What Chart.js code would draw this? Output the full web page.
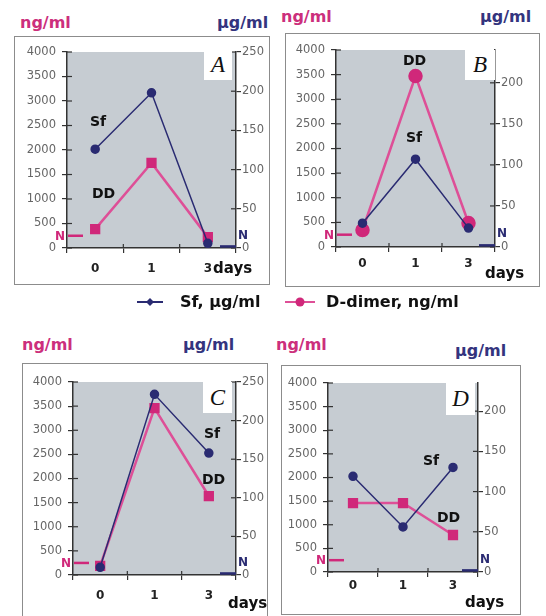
<!DOCTYPE html>
<html>
<head>
<meta charset="utf-8">
<script src="https://cdn.jsdelivr.net/npm/chart.js@4.4.0/dist/chart.umd.min.js"></script>
<style>
  body { margin: 0; background: #fff; width: 546px; height: 616px; position: relative; overflow: hidden;
         font-family: "DejaVu Sans", Verdana, sans-serif; }
  .frame { position: absolute; border: 1.5px solid #8c8c8c; box-sizing: border-box; }
  canvas { position: absolute; }
  .t { position: absolute; font-weight: bold; white-space: nowrap; line-height: 1; }
  .ng { color: #cc2f7c; font-size: 16px; }
  .ug { color: #34347e; font-size: 16px; }
  .lbl { color: #111; font-size: 14px; }
  .days { color: #111; font-size: 15px; }
  .letter { position: absolute; background: #fff; font-family: "Liberation Serif", serif; font-style: italic;
            font-size: 23px; text-align: center; line-height: 30px; color: #111; }
  .leg { color: #111; font-size: 16px; }
</style>
</head>
<body>
<script>
const days = ['0', '1', '3'];

// Sf, µg/ml (right axis)   D-dimer, ng/ml (left axis)
const sfA = [126, 198, 6];
const ddA = [384, 1737, 222];
const sfB = [29, 107, 23];
const ddB = [345, 3472, 487];
const sfC = [10, 234, 158];
const ddC = [190, 3460, 1637];
const sfD = [119, 56, 130];
const ddD = [1460, 1460, 783];

const ngMax = 4000;
const ngStep = 500;
const ugStep = 50;
const ugMaxA = 250, ugMaxB = 240, ugMaxC = 250, ugMaxD = 235;

// normal levels ("N" marks)
const normDD = 250;
const normSf = 2;

const PINK = '#d0287a';
const PINK_LINE = '#de4f97';
const NAVY = '#2a2b72';

const panels = [
  {id: 'A', sf: sfA, dd: ddA, ug: ugMaxA, frame: [14, 36, 270, 285], plot: [67, 52, 236, 248], xPad: 9},
  {id: 'B', sf: sfB, dd: ddB, ug: ugMaxB, frame: [285, 33, 540, 287], plot: [336, 50, 495, 247], xPad: 5},
  {id: 'C', sf: sfC, dd: ddC, ug: ugMaxC, frame: [22, 363, 268, 618], plot: [73, 382, 236, 575], xPad: 9},
  {id: 'D', sf: sfD, dd: ddD, ug: ugMaxD, frame: [281, 365, 521, 615], plot: [328, 383, 478, 572], xPad: 2},
];

function addText(cls, text, left, cy, size) {
  const d = document.createElement('div');
  d.className = 't ' + cls;
  d.textContent = text;
  d.style.left = left + 'px';
  d.style.top = (cy - size / 2) + 'px';
  document.body.appendChild(d);
  return d;
}

const decor = {
  id: 'decor',
  beforeDraw(chart) {
    const {ctx, chartArea: a} = chart;
    ctx.save();
    ctx.fillStyle = '#c6ccd2';
    ctx.fillRect(a.left, a.top, a.right - a.left, a.bottom - a.top);
    ctx.restore();
  },
  afterDraw(chart) {
    const {ctx, chartArea: a, scales} = chart;
    ctx.save();
    ctx.strokeStyle = '#333';
    ctx.lineWidth = 1.2;
    // inner halves of the tick marks
    scales.yL.ticks.forEach(t => {
      const y = scales.yL.getPixelForValue(t.value);
      ctx.beginPath(); ctx.moveTo(a.left, y); ctx.lineTo(a.left + 5, y); ctx.stroke();
    });
    scales.yR.ticks.forEach(t => {
      const y = scales.yR.getPixelForValue(t.value);
      ctx.beginPath(); ctx.moveTo(a.right - 5, y); ctx.lineTo(a.right, y); ctx.stroke();
    });
    const half = (scales.x.getPixelForValue(1) - scales.x.getPixelForValue(0)) / 2;
    for (let i = 0; i < days.length - 1; i++) {
      const x = scales.x.getPixelForValue(i) + half;
      ctx.beginPath(); ctx.moveTo(x, a.bottom - 4); ctx.lineTo(x, a.bottom); ctx.stroke();
    }
    // N marks
    ctx.font = 'bold 12px "DejaVu Sans"';
    ctx.textBaseline = 'middle';
    const yn = scales.yL.getPixelForValue(normDD);
    ctx.strokeStyle = PINK; ctx.lineWidth = 2.5;
    ctx.beginPath(); ctx.moveTo(a.left + 1, yn); ctx.lineTo(a.left + 16, yn); ctx.stroke();
    ctx.fillStyle = PINK; ctx.textAlign = 'right';
    ctx.fillText('N', a.left - 2, yn + 1);
    const ys = scales.yR.getPixelForValue(normSf);
    ctx.strokeStyle = NAVY;
    ctx.beginPath(); ctx.moveTo(a.right - 16, ys); ctx.lineTo(a.right, ys); ctx.stroke();
    ctx.fillStyle = NAVY; ctx.textAlign = 'left';
    ctx.fillText('N', a.right + 2, ys - 11);
    ctx.restore();
  }
};

const plain = v => String(v);

panels.forEach(p => {
  const [fl, ft, fr, fb] = p.frame;
  const [pl, pt, pr, pb] = p.plot;
  const fr_ = document.createElement('div');
  fr_.className = 'frame';
  Object.assign(fr_.style, {left: fl + 'px', top: ft + 'px', width: (fr - fl) + 'px', height: (fb - ft) + 'px'});
  document.body.appendChild(fr_);

  const cv = document.createElement('canvas');
  cv.width = fr - fl; cv.height = fb - ft;
  cv.style.left = fl + 'px'; cv.style.top = ft + 'px';
  document.body.appendChild(cv);

  new Chart(cv, {
    type: 'line',
    data: {
      labels: days,
      datasets: [
        {
          label: 'Sf, µg/ml', data: p.sf, yAxisID: 'yR', order: 1,
          borderColor: NAVY, borderWidth: 1.5, pointStyle: 'circle', pointRadius: 4,
          pointBackgroundColor: NAVY, pointBorderColor: NAVY, clip: false
        },
        {
          label: 'D-dimer, ng/ml', data: p.dd, yAxisID: 'yL', order: 2,
          borderColor: PINK_LINE, borderWidth: 2.5, pointStyle: p.id === 'B' ? 'circle' : 'rect',
          pointRadius: p.id === 'B' ? 6 : 5.5,
          pointBackgroundColor: PINK, pointBorderColor: PINK, clip: false
        }
      ]
    },
    options: {
      responsive: false,
      animation: false,
      devicePixelRatio: 1,
      layout: {padding: {top: pt - ft, left: 0, right: 0, bottom: 0}},
      plugins: {legend: {display: false}, tooltip: {enabled: false}},
      scales: {
        x: {
          type: 'category', offset: true,
          grid: {offset: true, drawOnChartArea: false, tickLength: 5, color: '#333', lineWidth: 1.2},
          border: {color: '#333', width: 1.5},
          ticks: {color: '#222', font: {family: 'DejaVu Sans', size: 12, weight: 'bold'}, padding: p.xPad},
          afterFit(s) { s.height = fb - pb; }
        },
        yL: {
          type: 'linear', position: 'left', min: 0, max: ngMax,
          grid: {drawOnChartArea: false, tickLength: 5, color: '#333', lineWidth: 1.2},
          border: {color: '#333', width: 1.5},
          ticks: {stepSize: ngStep, color: '#666', font: {family: 'DejaVu Sans', size: 11.5}, padding: 6,
                  callback: plain},
          afterFit(s) { s.width = pl - fl; }
        },
        yR: {
          type: 'linear', position: 'right', min: 0, max: p.ug,
          grid: {drawOnChartArea: false, tickLength: 5, color: '#333', lineWidth: 1.2},
          border: {color: '#333', width: 1.5},
          ticks: {stepSize: ugStep, includeBounds: false, color: '#666',
                  font: {family: 'DejaVu Sans', size: 11.5}, padding: 1, callback: plain},
          afterFit(s) { s.width = fr - pr; }
        }
      }
    },
    plugins: [decor]
  });
});

// unit titles
addText('ng', 'ng/ml', 20, 23, 16);
addText('ug', 'µg/ml', 217, 23, 16);
addText('ng', 'ng/ml', 281, 17, 16);
addText('ug', 'µg/ml', 480, 17, 16);
addText('ng', 'ng/ml', 22, 345, 16);
addText('ug', 'µg/ml', 183, 345, 16);
addText('ng', 'ng/ml', 276, 345, 16);
addText('ug', 'µg/ml', 455, 351, 16);

// "days"
addText('days', 'days', 213, 268, 15);
addText('days', 'days', 485, 273, 15);
addText('days', 'days', 228, 603, 15);
addText('days', 'days', 465, 602, 15);

// series labels in the plots
addText('lbl', 'Sf', 90, 121, 14);
addText('lbl', 'DD', 92, 193, 14);
addText('lbl', 'DD', 403, 60, 14);
addText('lbl', 'Sf', 406, 137, 14);
addText('lbl', 'Sf', 204, 433, 14);
addText('lbl', 'DD', 202, 479, 14);
addText('lbl', 'Sf', 423, 460, 14);
addText('lbl', 'DD', 437, 517, 14);

// panel letters
[['A', 204, 50, 28, 30], ['B', 465, 50, 30, 30], ['C', 203, 382, 29, 31], ['D', 446, 383, 29, 32]]
  .forEach(([s, l, t, w, h]) => {
    const d = document.createElement('div');
    d.className = 'letter';
    d.textContent = s;
    Object.assign(d.style, {left: l + 'px', top: t + 'px', width: w + 'px', height: h + 'px', lineHeight: h + 'px'});
    document.body.appendChild(d);
  });

// legend
const lg = document.createElement('canvas');
lg.width = 200; lg.height = 20;
lg.style.left = '130px'; lg.style.top = '292px';
document.body.appendChild(lg);
const c = lg.getContext('2d');
c.lineWidth = 2;
c.strokeStyle = NAVY;
c.beginPath(); c.moveTo(7, 10); c.lineTo(33, 10); c.stroke();
c.fillStyle = NAVY;
c.beginPath(); c.moveTo(20, 6); c.lineTo(24, 10); c.lineTo(20, 14); c.lineTo(16, 10); c.closePath(); c.fill();
c.strokeStyle = PINK_LINE;
c.beginPath(); c.moveTo(155, 10); c.lineTo(185, 10); c.stroke();
c.fillStyle = PINK;
c.beginPath(); c.arc(170, 10, 4.5, 0, Math.PI * 2); c.fill();
addText('leg', 'Sf, µg/ml', 180, 302, 16);
addText('leg', 'D-dimer, ng/ml', 326, 302, 16);
</script>
</body>
</html>
